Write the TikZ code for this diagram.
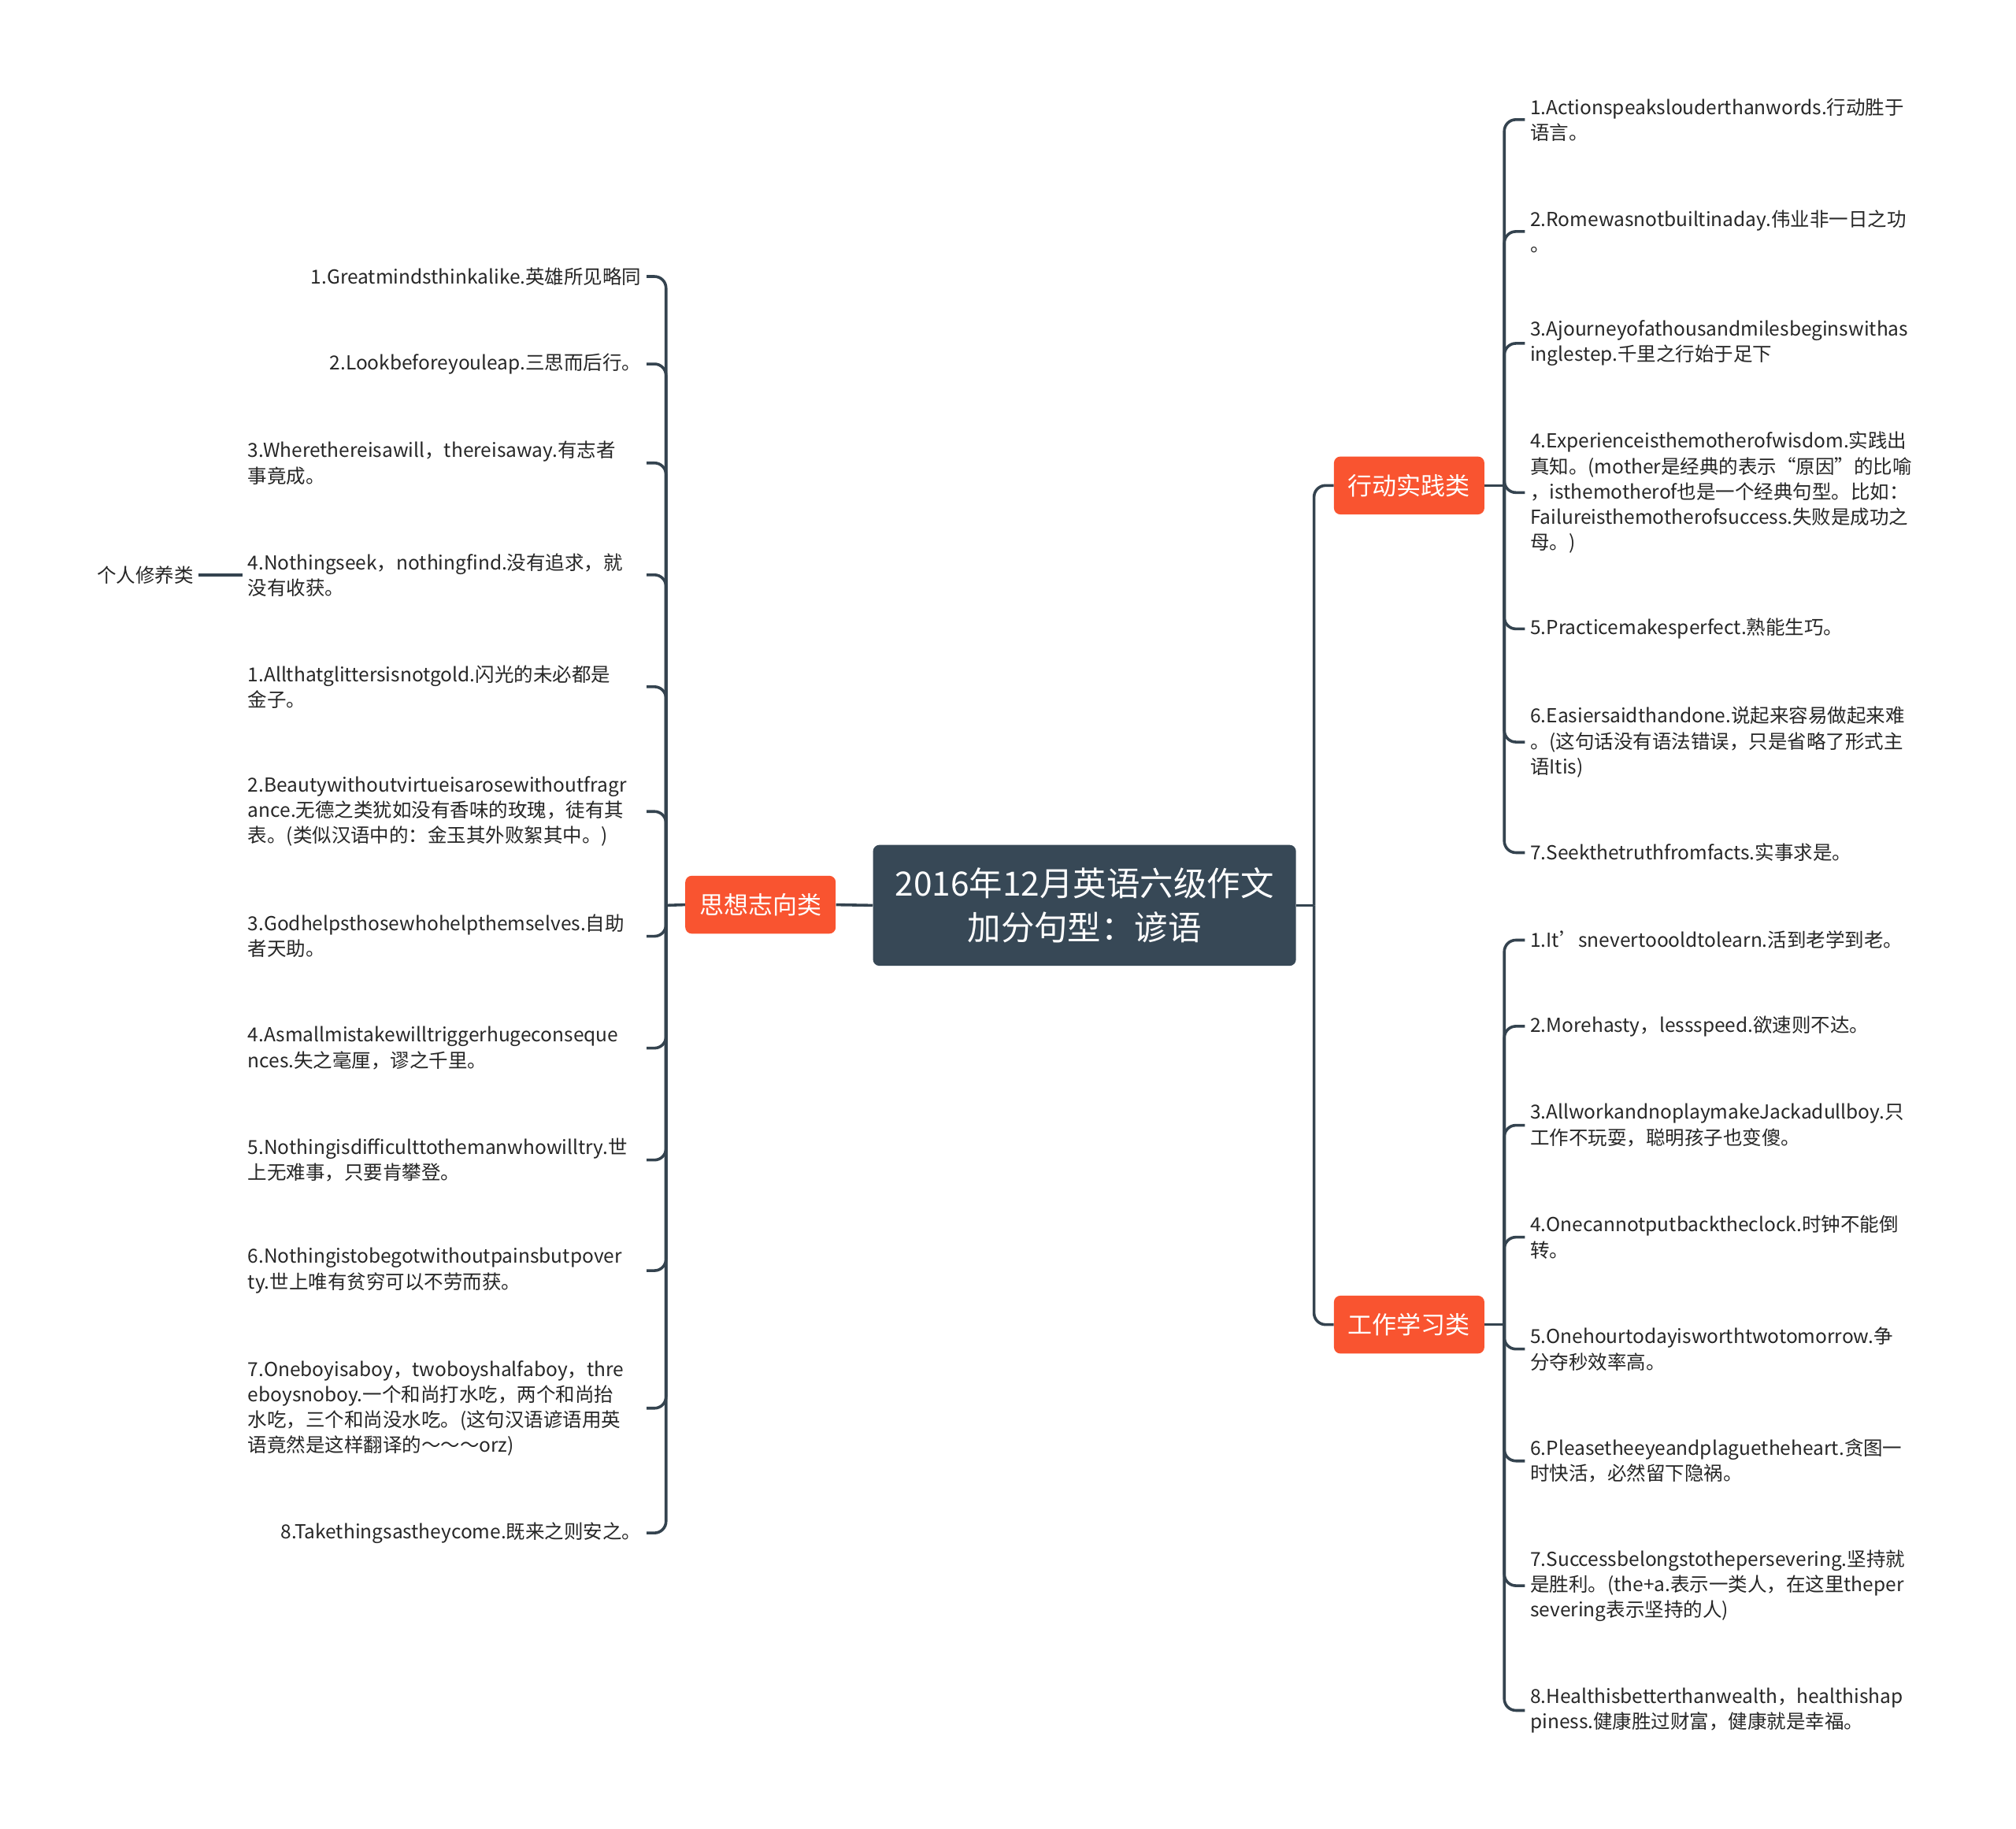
\documentclass[tikz,border=0pt]{standalone}
\usepackage{fontspec}
\setmainfont{Noto Sans CJK SC}
\usetikzlibrary{positioning}
\definecolor{smRoot}{HTML}{374856}
\definecolor{smTopic}{HTML}{F95430}
\definecolor{smLine}{HTML}{34434F}
\definecolor{smText}{HTML}{262626}
\tikzset{
  rootnode/.style={
    fill=smRoot, text=white, rounded corners=5pt, minimum width=329pt,
    minimum height=94pt, align=center, inner sep=0pt,
    font=\fontsize{26}{34}\selectfont
  },
  topic/.style={
    fill=smTopic, text=white, rounded corners=5pt, minimum width=117pt,
    minimum height=45pt, inner sep=0pt, font=\fontsize{19}{23}\selectfont
  },
  leaf/.style={text=smText, align=left, inner sep=4pt, font=\fontsize{15}{19.7}\selectfont},
  leafL/.style={leaf, anchor=east},
  leafR/.style={leaf, anchor=west},
  wide/.style={text width=306pt},
  link/.style={draw=smLine, line width=2.2pt, rounded corners=9pt}
}
\begin{document}
\begin{tikzpicture}[x=1pt, y=-1pt]
  \path[fill=white, use as bounding box] (0,0) rectangle (1568,1422);

  \node[rootnode] (root) at (843.5,704) {2016年12月英语六级作文\\加分句型：谚语};
  \node[topic] (sx) at (591.5,703.5) {思想志向类};
  \node[topic] (xd) at (1096,377.5) {行动实践类};
  \node[topic] (gz) at (1096,1030) {工作学习类};

  \coordinate (jS) at (518,704);
  \coordinate (jR) at (1022,704);
  \coordinate (jX) at (1170,377.5);
  \coordinate (jG) at (1170,1030);

  % 思想志向类
  \node[leafL] (sx1) at (503,215) {1.Greatmindsthinkalike.英雄所见略同};
  \node[leafL] (sx2) at (503,283) {2.Lookbeforeyouleap.三思而后行。};
  \node[leafL, wide] (sx3) at (503,360) {3.Wherethereisawill，thereisaway.有志者\\事竟成。};
  \node[leafL, wide] (sx4) at (503,447) {4.Nothingseek，nothingfind.没有追求，就\\没有收获。};
  \node[leaf, anchor=east, left=34pt of sx4] (sx4a) {个人修养类};
  \node[leafL, wide] (sx5) at (503,534) {1.Allthatglittersisnotgold.闪光的未必都是\\金子。};
  \node[leafL, wide] (sx6) at (503,631) {2.Beautywithoutvirtueisarosewithoutfragr\\ance.无德之类犹如没有香味的玫瑰，徒有其\\表。(类似汉语中的：金玉其外败絮其中。)};
  \node[leafL, wide] (sx7) at (503,728) {3.Godhelpsthosewhohelpthemselves.自助\\者天助。};
  \node[leafL, wide] (sx8) at (503,815) {4.Asmallmistakewilltriggerhugeconseque\\nces.失之毫厘，谬之千里。};
  \node[leafL, wide] (sx9) at (503,902) {5.Nothingisdifficulttothemanwhowilltry.世\\上无难事，只要肯攀登。};
  \node[leafL, wide] (sx10) at (503,988) {6.Nothingistobegotwithoutpainsbutpover\\ty.世上唯有贫穷可以不劳而获。};
  \node[leafL, wide] (sx11) at (503,1095) {7.Oneboyisaboy，twoboyshalfaboy，thre\\eboysnoboy.一个和尚打水吃，两个和尚抬\\水吃，三个和尚没水吃。(这句汉语谚语用英\\语竟然是这样翻译的～～～orz)};
  \node[leafL] (sx12) at (503,1192) {8.Takethingsastheycome.既来之则安之。};

  % 行动实践类
  \node[leafR] (xd1) at (1186,93) {1.Actionspeakslouderthanwords.行动胜于\\语言。};
  \node[leafR] (xd2) at (1186,180) {2.Romewasnotbuiltinaday.伟业非一日之功\\。};
  \node[leafR] (xd3) at (1186,267) {3.Ajourneyofathousandmilesbeginswithas\\inglestep.千里之行始于足下};
  \node[leafR] (xd4) at (1186,383) {4.Experienceisthemotherofwisdom.实践出\\真知。(mother是经典的表示“原因”的比喻\\，isthemotherof也是一个经典句型。比如：\\Failureisthemotherofsuccess.失败是成功之\\母。)};
  \node[leafR] (xd5) at (1186,489) {5.Practicemakesperfect.熟能生巧。};
  \node[leafR] (xd6) at (1186,577) {6.Easiersaidthandone.说起来容易做起来难\\。(这句话没有语法错误，只是省略了形式主\\语Itis)};
  \node[leafR] (xd7) at (1186,663) {7.Seekthetruthfromfacts.实事求是。};

  % 工作学习类
  \node[leafR] (gz1) at (1186,731) {1.It’snevertoooldtolearn.活到老学到老。};
  \node[leafR] (gz2) at (1186,798) {2.Morehasty，lessspeed.欲速则不达。};
  \node[leafR] (gz3) at (1186,875) {3.AllworkandnoplaymakeJackadullboy.只\\工作不玩耍，聪明孩子也变傻。};
  \node[leafR] (gz4) at (1186,962) {4.Onecannotputbacktheclock.时钟不能倒\\转。};
  \node[leafR] (gz5) at (1186,1049) {5.Onehourtodayisworthtwotomorrow.争\\分夺秒效率高。};
  \node[leafR] (gz6) at (1186,1136) {6.Pleasetheeyeandplaguetheheart.贪图一\\时快活，必然留下隐祸。};
  \node[leafR] (gz7) at (1186,1233) {7.Successbelongstothepersevering.坚持就\\是胜利。(the+a.表示一类人，在这里theper\\severing表示坚持的人)};
  \node[leafR] (gz8) at (1186,1330) {8.Healthisbetterthanwealth，healthishap\\piness.健康胜过财富，健康就是幸福。};

  % connectors
  \draw[link] (root.west) -- (sx.east);
  \draw[link] (sx.west) -- (jS);
  \foreach \n in {1,...,12}
    \draw[link] (jS) |- (sx\n.east);
  \draw[link] (sx4.west) -- (sx4a.east);
  \draw[link] (root.east) -- (jR);
  \draw[link] (jR) |- (xd.west);
  \draw[link] (jR) |- (gz.west);
  \draw[link] (xd.east) -- (jX);
  \foreach \n in {1,...,7}
    \draw[link] (jX) |- (xd\n.west);
  \draw[link] (gz.east) -- (jG);
  \foreach \n in {1,...,8}
    \draw[link] (jG) |- (gz\n.west);
\end{tikzpicture}
\end{document}
